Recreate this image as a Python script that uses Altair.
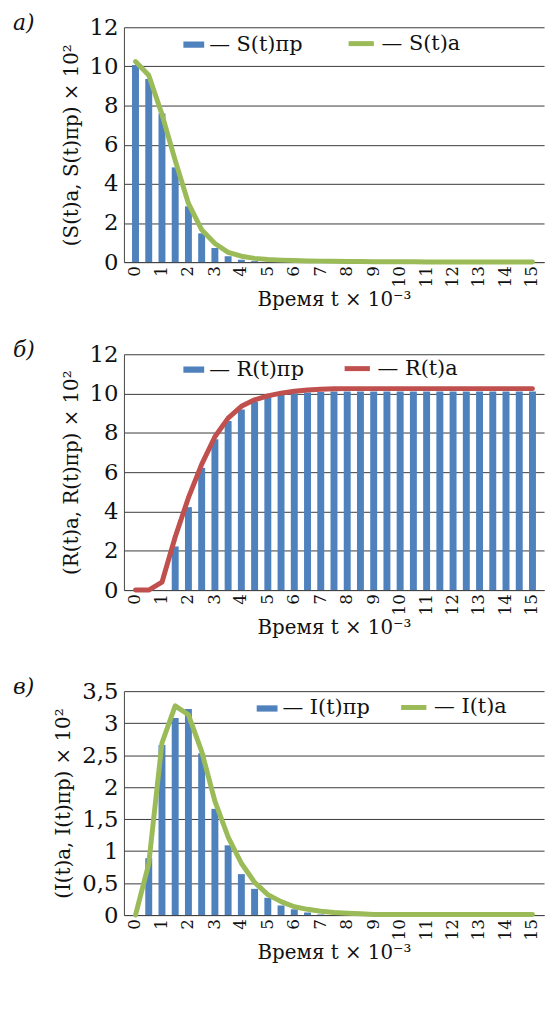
import altair as alt
import pandas as pd

T = [0, 0.5, 1, 1.5, 2, 2.5, 3, 3.5, 4, 4.5, 5, 5.5, 6, 6.5, 7, 7.5,
     8, 8.5, 9, 9.5, 10, 10.5, 11, 11.5, 12, 12.5, 13, 13.5, 14, 14.5, 15]
X_TICKS = [0, 1, 2, 3, 4, 5, 6, 7, 8, 9, 10, 11, 12, 13, 14, 15]

S_PR = [10.07, 9.36, 7.59, 4.84, 2.85, 1.47, 0.72, 0.3, 0.12, 0.05, 0.02, 0.01,
        0, 0, 0, 0, 0, 0, 0, 0, 0, 0, 0, 0, 0, 0, 0, 0, 0, 0, 0]
S_A = [10.25, 9.55, 7.55, 5.2, 3.0, 1.65, 0.95, 0.5, 0.3, 0.19, 0.13, 0.1,
       0.08, 0.06, 0.05, 0.04, 0.03, 0.03, 0.02, 0.02, 0.02, 0.02, 0.01, 0.01,
       0.01, 0.01, 0.01, 0.01, 0.01, 0.01, 0.01]
R_PR = [0, 0, 0, 2.22, 4.22, 6.22, 7.68, 8.6, 9.19, 9.58, 9.82, 9.95, 10.02,
        10.06, 10.08, 10.1, 10.1, 10.1, 10.1, 10.1, 10.1, 10.1, 10.1, 10.1,
        10.1, 10.1, 10.1, 10.1, 10.1, 10.1, 10.1]
R_A = [0, 0, 0.4, 2.7, 4.7, 6.4, 7.8, 8.75, 9.35, 9.68, 9.88, 10.02, 10.12,
       10.18, 10.22, 10.24, 10.25, 10.25, 10.25, 10.25, 10.25, 10.25, 10.25,
       10.25, 10.25, 10.25, 10.25, 10.25, 10.25, 10.25, 10.25]
I_PR = [0, 0.89, 2.66, 3.08, 3.22, 2.53, 1.66, 1.09, 0.64, 0.41, 0.27, 0.15,
        0.09, 0.04, 0.01, 0, 0, 0, 0, 0, 0, 0, 0, 0, 0, 0, 0, 0, 0, 0, 0]
I_A = [0, 0.8, 2.69, 3.27, 3.13, 2.56, 1.78, 1.22, 0.81, 0.51, 0.32, 0.21,
       0.13, 0.09, 0.06, 0.04, 0.03, 0.02, 0.01, 0.01, 0.01, 0.01, 0.01, 0.01,
       0.01, 0.01, 0.01, 0.01, 0.01, 0.01, 0.01]

Y_TICKS_12 = [0, 2, 4, 6, 8, 10, 12]
Y_TICKS_35 = [0, 0.5, 1, 1.5, 2, 2.5, 3, 3.5]

BLUE = "#4F81BD"
GREEN = "#9BBB59"
RED = "#C0504D"
FONT = "DejaVu Serif"
X_TITLE = "Время t × 10⁻³"


def panel(letter, pr, a, pr_name, a_name, line_color, ymax, yticks, ytitle,
          leg1x, leg2x, legy, leg2y, height):
    df = pd.DataFrame({"t": T, "pr": pr, "a": a})
    df["s_pr"] = pr_name
    df["s_a"] = a_name
    lab_df = pd.DataFrame({"t": X_TICKS,
                           "lab": [str(v) for v in X_TICKS],
                           "y0": [0] * len(X_TICKS)})
    xaxis = alt.Axis(values=X_TICKS, labels=False, title=X_TITLE, grid=False,
                     ticks=False, titleFont=FONT, titleFontSize=20,
                     titleFontWeight="normal", titleColor="#111",
                     titlePadding=28, domainColor="#444")
    yaxis = alt.Axis(values=yticks, title=ytitle, grid=True, gridColor="#3a3a3a",
                     gridWidth=1, ticks=False, labelFont=FONT, labelFontSize=23,
                     labelColor="#111", labelPadding=6, titleFont=FONT,
                     titleFontSize=20, titleFontWeight="normal",
                     titleColor="#111", titlePadding=8, domainColor="#444",
                     labelExpr="replace(toString(datum.value), '.', ',')")
    xscale = alt.Scale(domain=[-0.25, 15.25], nice=False, zero=False)
    yscale = alt.Scale(domain=[0, ymax], nice=False)

    leg_common = dict(orient="none", direction="horizontal", title=None,
                      labelFont=FONT, labelFontSize=21, labelColor="#111",
                      labelOffset=5)
    bars = alt.Chart(df).mark_bar(size=7).encode(
        x=alt.X("t:Q", scale=xscale, axis=xaxis),
        y=alt.Y("pr:Q", scale=yscale, axis=yaxis),
        fill=alt.Fill("s_pr:N", scale=alt.Scale(domain=[pr_name], range=[BLUE]),
                      legend=alt.Legend(legendX=leg1x, legendY=legy,
                                        symbolType="M-1,-0.3H1V0.3H-1Z",
                                        symbolSize=441, symbolStrokeWidth=0,
                                        **leg_common)),
    )
    line = alt.Chart(df).mark_line(strokeWidth=5, strokeCap="round",
                                   strokeJoin="round").encode(
        x=alt.X("t:Q", scale=xscale, axis=xaxis),
        y=alt.Y("a:Q", scale=yscale, axis=yaxis),
        stroke=alt.Stroke("s_a:N",
                          scale=alt.Scale(domain=[a_name], range=[line_color]),
                          legend=alt.Legend(legendX=leg2x, legendY=leg2y,
                                            symbolType="stroke",
                                            symbolSize=650, symbolStrokeWidth=5,
                                            **leg_common)),
    )
    labels = alt.Chart(lab_df).mark_text(
        angle=270, align="right", baseline="middle", dx=-4, font=FONT,
        fontSize=17, color="#111"
    ).encode(
        x=alt.X("t:Q", scale=xscale, axis=xaxis),
        y=alt.Y("y0:Q", scale=yscale, axis=yaxis),
        text="lab:N",
    )
    return alt.layer(bars, line, labels).properties(
        width=424, height=height,
        title=alt.TitleParams(text=letter, anchor="start", frame="group",
                              font=FONT, fontStyle="italic",
                              fontWeight="normal", fontSize=22, color="#111",
                              dx=-112, offset=-19),
    )


pa = panel("а)", S_PR, S_A, "— S(t)пр", "— S(t)а", GREEN, 12, Y_TICKS_12,
           "(S(t)а, S(t)пр) × 10²", 60, 224, 7, 1, 237)
pb = panel("б)", R_PR, R_A, "— R(t)пр", "— R(t)а", RED, 12, Y_TICKS_12,
           "(R(t)а, R(t)пр) × 10²", 60, 220, 5, -1, 238)
pc = panel("в)", I_PR, I_A, "— I(t)пр", "— I(t)а", GREEN, 3.5, Y_TICKS_35,
           "(I(t)а, I(t)пр) × 10²", 134, 277, 7, 1, 226)

top_two = alt.vconcat(pa, pb, spacing=30).resolve_scale(
    fill="independent", stroke="independent"
).resolve_legend(fill="independent", stroke="independent")

chart = alt.vconcat(top_two, pc, spacing=39).resolve_scale(
    fill="independent", stroke="independent"
).resolve_legend(fill="independent", stroke="independent").properties(
    padding={"left": 5, "top": 0, "right": 5, "bottom": 5}
).configure_view(stroke=None)

chart.save("out.html", embed_options={"renderer": "svg", "actions": False})
